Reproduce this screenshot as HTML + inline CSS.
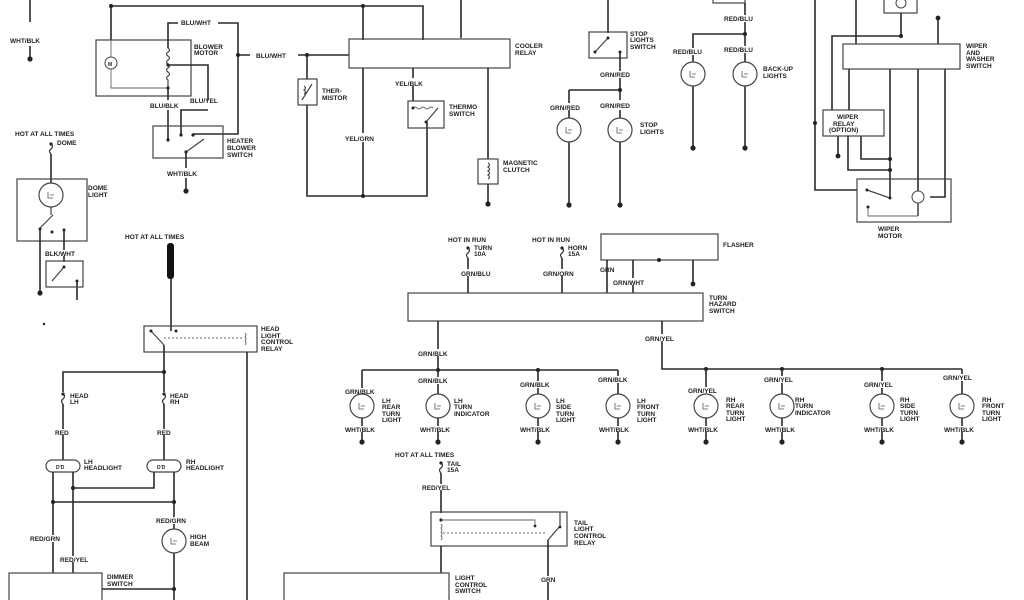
<!DOCTYPE html>
<html><head><meta charset="utf-8"><style>
html,body{margin:0;padding:0;background:#fff}
svg{display:block}
text{font-family:"Liberation Sans",sans-serif;font-size:6.5px;font-weight:bold;fill:#222}
.w{stroke:#2a2a2a;stroke-width:1.6;fill:none}
.b{stroke:#444;stroke-width:1.2;fill:none}
.t{stroke:#666;stroke-width:0.9;fill:none}
.d{fill:#222}
</style></head><body>
<svg width="1024" height="600" viewBox="0 0 1024 600" xmlns="http://www.w3.org/2000/svg">
<defs>
<g id="bulb"><circle r="12" fill="#fff" stroke="#444" stroke-width="1.2"/><path d="M-3,-3 v6 h5 M-1,0 h4" stroke="#555" stroke-width="0.8" fill="none"/></g>
<g id="fuse"><path d="M0,0 q3,2 0,5 q-3,2 0,5" stroke="#333" stroke-width="1.2" fill="none"/><circle r="1.6" class="d"/></g>
</defs>

<!-- top-left WHT/BLK -->
<path class="w" d="M30,0 V22 M30,46 V58"/><circle cx="30" cy="59" r="2.6" class="d"/>
<text x="10" y="43">WHT/BLK</text>

<!-- top bus -->
<path class="w" d="M111,6 H423 V40 M111,6 V40 M363,6 V40 M461,0 V38"/>
<circle cx="111" cy="6" r="2" class="d"/><circle cx="363" cy="6" r="2" class="d"/>

<!-- blower motor -->
<rect x="96" y="40" width="95" height="56" class="b"/>
<circle cx="111" cy="63" r="6" fill="#fff" stroke="#444"/><text x="108" y="66" style="font-size:5px">M</text>
<path class="t" d="M111,69 V88 H168 M111,57 V40"/>
<path class="b" d="M168,48 q3,2 0,4 q-3,2 0,4 q3,2 0,4 q-3,2 0,4 q3,2 0,4 q-3,2 0,4 q3,2 0,4 q-3,2 0,4 V88"/>
<circle cx="168" cy="65" r="1.6" class="d"/><circle cx="168" cy="88" r="1.6" class="d"/>
<path class="w" d="M168,48 V23 H178 M218,23 H238 V134 H193"/>
<text x="181" y="25">BLU/WHT</text>
<text x="194" y="49">BLOWER</text><text x="194" y="55">MOTOR</text>
<path class="w" d="M238,55 H250 M298,55 H349"/><circle cx="238" cy="55" r="2" class="d"/><circle cx="307" cy="55" r="2" class="d"/>
<text x="256" y="58">BLU/WHT</text>
<path class="w" d="M168,88 V100 M168,110 V140 M168,65 H208 V100 M208,110 H181 V134"/>
<text x="150" y="108">BLU/BLK</text><text x="190" y="103">BLU/YEL</text>
<!-- heater switch -->
<rect x="153" y="126" width="70" height="32" class="b"/>
<circle cx="168" cy="140" r="1.6" class="d"/><circle cx="181" cy="135" r="1.6" class="d"/><circle cx="193" cy="135" r="1.6" class="d"/>
<path class="b" d="M186,152 L204,139"/><circle cx="186" cy="152" r="1.6" class="d"/>
<text x="227" y="143">HEATER</text><text x="227" y="150">BLOWER</text><text x="227" y="157">SWITCH</text>
<path class="w" d="M186,152 V168 M186,178 V190"/><circle cx="186" cy="191" r="2.6" class="d"/>
<text x="167" y="176">WHT/BLK</text>

<!-- cooler relay -->
<rect x="349" y="39" width="161" height="29" class="b"/>
<text x="515" y="48">COOLER</text><text x="515" y="55">RELAY</text>
<path class="w" d="M307,55 V79 M307,105 V196 H427 V122 M363,68 V133 M363,142 V196 M413,68 V78 M413,86 V101 M488,68 V159 M488,184 V203"/>
<circle cx="363" cy="196" r="2" class="d"/><circle cx="488" cy="204" r="2.6" class="d"/>
<rect x="298" y="79" width="19" height="26" class="b"/><path class="b" d="M302,100 L312,84 M304,86 q3,2 0,4 q3,2 0,4"/>
<text x="322" y="93">THER-</text><text x="322" y="100">MISTOR</text>
<text x="345" y="141">YEL/GRN</text><text x="395" y="86">YEL/BLK</text>
<rect x="408" y="101" width="36" height="27" class="b"/>
<path class="t" d="M413,108 q2,-2 4,0 q2,2 4,0 q2,-2 4,0 q2,2 4,0 q2,-2 4,0"/>
<path class="b" d="M426,122 L438,108"/><circle cx="413" cy="108" r="1.5" class="d"/><circle cx="426" cy="122" r="1.5" class="d"/>
<text x="449" y="109">THERMO</text><text x="449" y="116">SWITCH</text>
<rect x="478" y="159" width="20" height="25" class="b"/><path class="b" d="M488,163 q3,2 0,4 q3,2 0,4 q3,2 0,4 q3,2 0,4"/>
<text x="503" y="165">MAGNETIC</text><text x="503" y="172">CLUTCH</text>

<!-- dome -->
<text x="15" y="136">HOT AT ALL TIMES</text>
<use href="#fuse" x="51" y="144"/><text x="57" y="145">DOME</text>
<path class="w" d="M51,154 V183"/>
<rect x="17" y="179" width="70" height="62" class="b"/>
<use href="#bulb" x="51" y="195"/>
<path class="b" d="M40,228 L53,215 M51,207 V215"/><circle cx="52" cy="232" r="1.5" class="d"/><circle cx="64" cy="230" r="1.5" class="d"/><circle cx="40" cy="229" r="1.5" class="d"/>
<text x="88" y="190">DOME</text><text x="88" y="197">LIGHT</text>
<path class="w" d="M40,229 V292 M64,230 V250 M64,256 V262 M77,281 V300"/><circle cx="40" cy="293" r="2.6" class="d"/>
<text x="45" y="256">BLK/WHT</text>
<rect x="46" y="261" width="37" height="26" class="b"/><path class="b" d="M52,281 L64,267"/><circle cx="64" cy="267" r="1.5" class="d"/><circle cx="77" cy="281" r="1.5" class="d"/>
<circle cx="44" cy="324" r="1.2" class="d"/>

<!-- head light -->
<text x="125" y="239">HOT AT ALL TIMES</text>
<rect x="167" y="243" width="7" height="36" rx="3" fill="#111"/>
<path class="w" d="M171,279 V331"/>
<rect x="144" y="326" width="113" height="26" class="b"/>
<path class="b" d="M151,331 L164,345"/><circle cx="151" cy="331" r="1.5" class="d"/><circle cx="176" cy="331" r="1.5" class="d"/>
<path class="t" d="M164,338 H243" stroke-dasharray="2,2"/>
<path class="t" d="M245,333 q2,2 0,4 q2,2 0,4 q2,2 0,4"/>
<text x="261" y="331">HEAD</text><text x="261" y="338">LIGHT</text><text x="261" y="344">CONTROL</text><text x="261" y="351">RELAY</text>
<path class="w" d="M247,352 V600 M164,345 V372 H63 V392 M164,372 V392"/><circle cx="164" cy="372" r="2" class="d"/>
<use href="#fuse" x="63" y="394"/><use href="#fuse" x="164" y="394"/>
<text x="70" y="398">HEAD</text><text x="70" y="404">LH</text><text x="170" y="398">HEAD</text><text x="170" y="404">RH</text>
<path class="w" d="M63,404 V429 M63,435 V460 M164,404 V429 M164,435 V460"/>
<text x="55" y="435">RED</text><text x="157" y="435">RED</text>
<rect x="46" y="460" width="34" height="12" rx="6" class="b"/><rect x="147" y="460" width="34" height="12" rx="6" class="b"/>
<text x="56" y="469" style="font-size:5px">D'D</text><text x="157" y="469" style="font-size:5px">D'D</text>
<text x="84" y="464">LH</text><text x="84" y="470">HEADLIGHT</text><text x="186" y="464">RH</text><text x="186" y="470">HEADLIGHT</text>
<path class="w" d="M53,472 V535 M53,542 V573 M73,472 V556 M73,562 V573 M154,472 V488 H73 M174,472 V517 M174,524 V529 M174,553 V600 M53,502 H174"/>
<circle cx="73" cy="488" r="2" class="d"/><circle cx="53" cy="502" r="2" class="d"/><circle cx="174" cy="502" r="2" class="d"/>
<text x="30" y="541">RED/GRN</text><text x="60" y="562">RED/YEL</text><text x="156" y="523">RED/GRN</text>
<use href="#bulb" x="174" y="541"/><text x="190" y="539">HIGH</text><text x="190" y="546">BEAM</text>
<rect x="9" y="573" width="93" height="30" class="b"/>
<text x="107" y="579">DIMMER</text><text x="107" y="586">SWITCH</text>
<path class="w" d="M102,589 H174"/><circle cx="174" cy="589" r="2" class="d"/>

<!-- tail -->
<text x="395" y="457">HOT AT ALL TIMES</text>
<use href="#fuse" x="441" y="463"/><text x="447" y="466">TAIL</text><text x="447" y="472">15A</text>
<path class="w" d="M441,473 V484 M441,490 V513"/><text x="422" y="490">RED/YEL</text>
<rect x="431" y="512" width="136" height="34" class="b"/>
<circle cx="441" cy="520" r="1.6" class="d"/><path class="t" d="M441,520 H535 V526"/><circle cx="535" cy="526" r="1.4" class="d"/>
<path class="t" d="M441,524 q2,2 0,4 q2,2 0,4 q2,2 0,4 q2,2 0,4"/>
<path class="t" d="M443,533 H545" stroke-dasharray="2,2"/>
<path class="b" d="M548,540 L560,526 V512"/><circle cx="560" cy="527" r="1.4" class="d"/>
<text x="574" y="525">TAIL</text><text x="574" y="531">LIGHT</text><text x="574" y="538">CONTROL</text><text x="574" y="545">RELAY</text>
<path class="w" d="M441,546 V573 M548,540 V576 M548,582 V600"/><text x="541" y="582">GRN</text>
<rect x="284" y="573" width="165" height="30" class="b"/>
<text x="455" y="580">LIGHT</text><text x="455" y="587">CONTROL</text><text x="455" y="593">SWITCH</text>

<!-- stop lights -->
<path class="w" d="M608,0 V33"/>
<rect x="589" y="32" width="38" height="26" class="b"/>
<path class="b" d="M595,52 L608,38"/><circle cx="595" cy="52" r="1.5" class="d"/><circle cx="608" cy="38" r="1.5" class="d"/><circle cx="620" cy="52" r="1.5" class="d"/>
<text x="630" y="36">STOP</text><text x="630" y="42">LIGHTS</text><text x="630" y="49">SWITCH</text>
<path class="w" d="M620,52 V71 M620,78 V100 M569,90 H620 M569,90 V103 M569,110 V204 M620,110 V204"/><circle cx="620" cy="90" r="2" class="d"/>
<text x="600" y="77">GRN/RED</text><text x="550" y="110">GRN/RED</text><text x="600" y="108">GRN/RED</text>
<use href="#bulb" x="569" y="130"/><use href="#bulb" x="620" y="130"/>
<text x="640" y="127">STOP</text><text x="640" y="134">LIGHTS</text>
<circle cx="569" cy="205" r="2.6" class="d"/><circle cx="620" cy="205" r="2.6" class="d"/>

<!-- back-up -->
<rect x="713" y="-2" width="32" height="5" class="b"/>
<path class="w" d="M745,3 V15 M745,22 V46 M745,34 H693 V48 M693,55 V148 M745,53 V148"/><circle cx="745" cy="34" r="2" class="d"/>
<text x="724" y="21">RED/BLU</text><text x="673" y="54">RED/BLU</text><text x="724" y="52">RED/BLU</text>
<use href="#bulb" x="693" y="74"/><use href="#bulb" x="745" y="74"/>
<text x="763" y="71">BACK-UP</text><text x="763" y="78">LIGHTS</text>
<circle cx="693" cy="148" r="2.6" class="d"/><circle cx="745" cy="148" r="2.6" class="d"/>

<!-- wiper -->
<rect x="884" y="-2" width="33" height="15" class="b"/><circle cx="901" cy="3" r="5" fill="#fff" stroke="#444"/>
<path class="w" d="M815,0 V190 H857 M856,0 V44 M901,13 V36 H832 V110 M938,19 V44 M849,69 V110 M838,136 V155 M848,136 V170 H890 M861,136 V159 H890 M890,69 V197 M918,69 V216 M945,69 V197 H930"/>
<circle cx="815" cy="123" r="2" class="d"/><circle cx="901" cy="36" r="2" class="d"/><circle cx="938" cy="18" r="2.4" class="d"/><circle cx="838" cy="156" r="2.4" class="d"/><circle cx="890" cy="159" r="2" class="d"/><circle cx="890" cy="170" r="2" class="d"/>
<rect x="843" y="44" width="117" height="25" class="b" fill="#fff"/>
<text x="966" y="48">WIPER</text><text x="966" y="55">AND</text><text x="966" y="61">WASHER</text><text x="966" y="68">SWITCH</text>
<rect x="823" y="110" width="61" height="26" class="b" fill="#fff"/>
<text x="837" y="119">WIPER</text><text x="833" y="126">RELAY</text><text x="829" y="132">(OPTION)</text>
<rect x="857" y="179" width="94" height="43" class="b" fill="#fff"/>
<path class="b" d="M867,190 L890,198"/><circle cx="867" cy="190" r="1.5" class="d"/><circle cx="890" cy="198" r="1.5" class="d"/>
<circle cx="918" cy="197" r="6" fill="#fff" stroke="#444"/>
<path class="t" d="M868,207 V216 H918 M918,203 V216"/><circle cx="868" cy="207" r="1.5" class="d"/>
<text x="878" y="231">WIPER</text><text x="878" y="238">MOTOR</text>

<!-- turn/hazard -->
<text x="448" y="242">HOT IN RUN</text><use href="#fuse" x="468" y="248"/><text x="474" y="250">TURN</text><text x="474" y="256">10A</text>
<text x="532" y="242">HOT IN RUN</text><use href="#fuse" x="562" y="248"/><text x="568" y="250">HORN</text><text x="568" y="256">15A</text>
<path class="w" d="M468,258 V269 M468,276 V293 M562,258 V269 M562,276 V293"/>
<text x="461" y="276">GRN/BLU</text><text x="543" y="276">GRN/ORN</text>
<rect x="601" y="234" width="117" height="26" class="b"/><text x="723" y="247">FLASHER</text>
<path class="w" d="M607,260 V293 M633,260 V278 M633,285 V293 M693,260 V283"/>
<circle cx="659" cy="260" r="2" class="d"/><circle cx="693" cy="284" r="2.4" class="d"/>
<text x="600" y="272">GRN</text><text x="613" y="285">GRN/WHT</text>
<rect x="408" y="293" width="295" height="28" class="b"/>
<text x="709" y="300">TURN</text><text x="709" y="306">HAZARD</text><text x="709" y="313">SWITCH</text>
<path class="w" d="M438,321 V349 M438,356 V370 M362,370 H618 M662,321 V334 M662,341 V369 H962"/>
<text x="418" y="356">GRN/BLK</text><text x="645" y="341">GRN/YEL</text>
<circle cx="438" cy="370" r="2" class="d"/><circle cx="538" cy="370" r="2" class="d"/>
<circle cx="706" cy="369" r="2" class="d"/><circle cx="782" cy="369" r="2" class="d"/><circle cx="882" cy="369" r="2" class="d"/>
<path class="w" d="M362,370 V388 M362,394 V426 M362,432 V441 M438,370 V377 M438,384 V426 M438,432 V441 M538,370 V381 M538,388 V426 M538,432 V441 M618,370 V376 M618,383 V426 M618,432 V441 M706,369 V387 M706,394 V426 M706,432 V441 M782,369 V376 M782,383 V426 M782,432 V441 M882,369 V381 M882,388 V426 M882,432 V441 M962,369 V374 M962,381 V426 M962,432 V441"/>
<use href="#bulb" x="362" y="406"/><use href="#bulb" x="438" y="406"/><use href="#bulb" x="538" y="406"/><use href="#bulb" x="618" y="406"/>
<use href="#bulb" x="706" y="406"/><use href="#bulb" x="782" y="406"/><use href="#bulb" x="882" y="406"/><use href="#bulb" x="962" y="406"/>
<g class="d"><circle cx="362" cy="442" r="2.6"/><circle cx="438" cy="442" r="2.6"/><circle cx="538" cy="442" r="2.6"/><circle cx="618" cy="442" r="2.6"/><circle cx="706" cy="442" r="2.6"/><circle cx="782" cy="442" r="2.6"/><circle cx="882" cy="442" r="2.6"/><circle cx="962" cy="442" r="2.6"/></g>
<text x="345" y="394">GRN/BLK</text><text x="418" y="383">GRN/BLK</text><text x="520" y="387">GRN/BLK</text><text x="598" y="382">GRN/BLK</text>
<text x="688" y="393">GRN/YEL</text><text x="764" y="382">GRN/YEL</text><text x="864" y="387">GRN/YEL</text><text x="943" y="380">GRN/YEL</text>
<text x="345" y="432">WHT/BLK</text><text x="420" y="432">WHT/BLK</text><text x="520" y="432">WHT/BLK</text><text x="599" y="432">WHT/BLK</text>
<text x="688" y="432">WHT/BLK</text><text x="765" y="432">WHT/BLK</text><text x="864" y="432">WHT/BLK</text><text x="944" y="432">WHT/BLK</text>
<text x="382" y="403">LH</text><text x="382" y="409">REAR</text><text x="382" y="416">TURN</text><text x="382" y="422">LIGHT</text>
<text x="454" y="403">LH</text><text x="454" y="409">TURN</text><text x="454" y="416">INDICATOR</text>
<text x="556" y="403">LH</text><text x="556" y="409">SIDE</text><text x="556" y="416">TURN</text><text x="556" y="422">LIGHT</text>
<text x="637" y="403">LH</text><text x="637" y="409">FRONT</text><text x="637" y="416">TURN</text><text x="637" y="422">LIGHT</text>
<text x="726" y="402">RH</text><text x="726" y="408">REAR</text><text x="726" y="415">TURN</text><text x="726" y="421">LIGHT</text>
<text x="795" y="402">RH</text><text x="795" y="408">TURN</text><text x="795" y="415">INDICATOR</text>
<text x="900" y="402">RH</text><text x="900" y="408">SIDE</text><text x="900" y="415">TURN</text><text x="900" y="421">LIGHT</text>
<text x="982" y="402">RH</text><text x="982" y="408">FRONT</text><text x="982" y="415">TURN</text><text x="982" y="421">LIGHT</text>
</svg>
</body></html>
